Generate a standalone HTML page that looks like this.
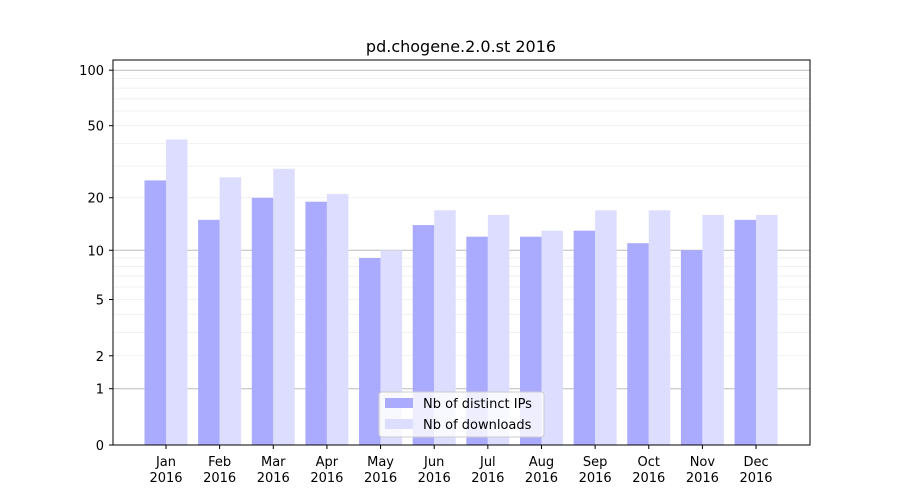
<!DOCTYPE html>
<html><head><meta charset="utf-8"><style>
body{margin:0;background:#fff;}
svg{display:block;font-family:"DejaVu Sans","Liberation Sans",sans-serif;}
</style></head><body>
<svg id="s" width="900" height="500" viewBox="0 0 900 500" xmlns="http://www.w3.org/2000/svg">
<rect width="900" height="500" fill="#fff"/>
<g id="grid"></g>
<g id="bars"></g>
<rect x="113" y="60" width="697" height="385" fill="none" stroke="#000" stroke-width="1"/>
<g id="ticks" font-size="13" fill="#000"></g>
<text x="461" y="52" font-size="16" text-anchor="middle">pd.chogene.2.0.st 2016</text>
<g>
<rect x="379" y="392" width="165" height="45" rx="3" fill="#fff" fill-opacity="0.8" stroke="#ccc"/>
<rect x="385" y="398" width="28" height="10" fill="#aaaaff"/>
<text x="423" y="408" font-size="13">Nb of distinct IPs</text>
<rect x="385" y="419" width="28" height="10" fill="#ddddff"/>
<text x="423" y="429" font-size="13">Nb of downloads</text>
</g>
</svg>
<script>
var NS="http://www.w3.org/2000/svg";
function Y(v){return 445-187*Math.log10(1+v);}
function el(p,t,a,txt){var e=document.createElementNS(NS,t);for(var k in a)e.setAttribute(k,a[k]);if(txt!=null)e.textContent=txt;document.getElementById(p).appendChild(e);return e;}
var minors=[2,3,4,5,6,7,8,9,20,30,40,50,60,70,80,90];
minors.forEach(function(v){el("grid","line",{x1:113,x2:810,y1:Y(v),y2:Y(v),stroke:"#eeeeee","stroke-width":0.8});});
[1,10,100].forEach(function(v){el("grid","line",{x1:113,x2:810,y1:Y(v),y2:Y(v),stroke:"#bbbbbb","stroke-width":1});});
var ips=[25,15,20,19,9,14,12,12,13,11,10,15];
var dl=[42,26,29,21,10,17,16,13,17,17,16,16];
var m=["Jan","Feb","Mar","Apr","May","Jun","Jul","Aug","Sep","Oct","Nov","Dec"];
for(var i=0;i<12;i++){
 var c=166+i*53.64;
 el("bars","rect",{x:c-21.5,y:Y(ips[i]),width:21.5,height:445-Y(ips[i]),fill:"#aaaaff"});
 el("bars","rect",{x:c,y:Y(dl[i]),width:21.5,height:445-Y(dl[i]),fill:"#ddddff"});
 el("ticks","line",{x1:c,x2:c,y1:445,y2:449,stroke:"#000"});
 el("ticks","text",{x:c,y:466,"text-anchor":"middle"},m[i]);
 el("ticks","text",{x:c,y:482,"text-anchor":"middle"},"2016");
}
[0,1,2,5,10,20,50,100].forEach(function(v){
 var y=Y(v);
 el("ticks","line",{x1:109,x2:113,y1:y,y2:y,stroke:"#000"});
 el("ticks","text",{x:104,y:y+5,"text-anchor":"end"},String(v));
});
</script>
</body></html>
